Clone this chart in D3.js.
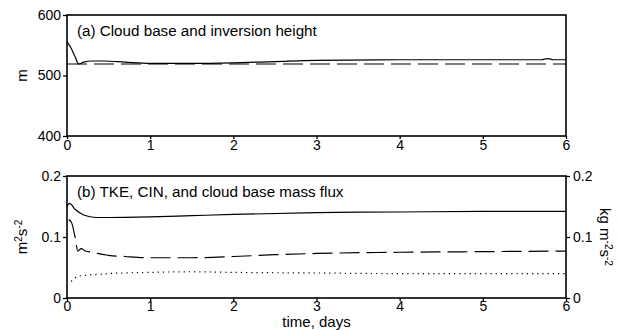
<!DOCTYPE html>
<html>
<head>
<meta charset="utf-8">
<script src="https://cdn.jsdelivr.net/npm/d3@7"></script>
<style>
  body { margin: 0; background: #fff; }
  svg { font-family: "Liberation Sans", Arial, Helvetica, sans-serif; }
  .tick text { font-size: 14px; fill: #000; }
  .frame { fill: none; stroke: #000; stroke-width: 1.6; }
  .lbl { font-size: 15px; fill: #000; }
  .title { font-size: 15.2px; fill: #000; }
</style>
</head>
<body>
<script>
// panel (a): cloud base (dashed) and inversion height (solid), metres
const timeA = [0, 0.05, 0.1, 0.14, 0.2, 0.3, 0.45, 0.7, 1, 1.5, 2, 2.5, 3, 4, 5, 5.7, 5.78, 5.85, 6];
const inversionHeight = [556, 545, 530, 519, 522, 524, 524, 522, 520, 520, 521, 523, 525, 526, 526, 526, 528, 526, 526];
const timeBase = [0, 6];
const cloudBase = [519, 519];

// panel (b): TKE (solid), CIN (dashed), cloud base mass flux (dotted)
const timeTke = [0, 0.03, 0.1, 0.2, 0.35, 0.5, 1, 1.5, 2, 3, 4, 5, 6];
const tke = [0.150, 0.155, 0.145, 0.136, 0.132, 0.132, 0.133, 0.135, 0.137, 0.140, 0.141, 0.142, 0.142];
const timeCin = [0.02, 0.05, 0.1, 0.13, 0.17, 0.22, 0.3, 0.5, 0.7, 1, 1.5, 2, 2.5, 3, 4, 5, 6];
const cin = [0.128, 0.125, 0.098, 0.077, 0.081, 0.077, 0.075, 0.070, 0.068, 0.066, 0.066, 0.068, 0.071, 0.073, 0.075, 0.076, 0.077];
const timeFlux = [0.05, 0.1, 0.15, 0.3, 0.5, 1, 1.5, 2, 3, 4, 5, 6];
const massFlux = [0.027, 0.033, 0.036, 0.038, 0.040, 0.042, 0.043, 0.042, 0.041, 0.040, 0.040, 0.040];

const xTicks = [0, 1, 2, 3, 4, 5, 6];
const yTicksA = [400, 500, 600];
const yTicksB = [0, 0.1, 0.2];

const W = 619, H = 330;
const left = 67, right = 566;
const panelA = { top: 15, bottom: 136 };
const panelB = { top: 176, bottom: 298 };

const svg = d3.select('body').append('svg')
    .attr('width', W)
    .attr('height', H);

const x = d3.scaleLinear().domain([0, 6]).range([left, right]);
const yA = d3.scaleLinear().domain([400, 600]).range([panelA.bottom, panelA.top]);
const yB = d3.scaleLinear().domain([0, 0.2]).range([panelB.bottom, panelB.top]);

const fmtB = d => d === 0 ? '0' : d3.format('.1f')(d);

function axisStyle(g) {
    g.select('.domain').remove();
    g.selectAll('.tick line').attr('stroke', '#000').attr('stroke-width', 1.3);
}

function drawLine(xs, ys, yScale, dash) {
    const pts = xs.map((t, i) => [t, ys[i]]);
    svg.append('path')
        .datum(pts)
        .attr('fill', 'none')
        .attr('stroke', '#000')
        .attr('stroke-width', 1.2)
        .attr('stroke-dasharray', dash)
        .attr('d', d3.line()
            .curve(d3.curveMonotoneX)
            .x(d => x(d[0]))
            .y(d => yScale(d[1])));
}

// ---- panel (a)
svg.append('g')
    .attr('transform', `translate(0,${panelA.bottom})`)
    .call(d3.axisBottom(x).tickValues(xTicks).tickSize(3).tickPadding(1).tickFormat(d3.format('d')))
    .call(axisStyle);
svg.append('g')
    .attr('transform', `translate(${left},0)`)
    .call(d3.axisLeft(yA).tickValues(yTicksA).tickSize(4).tickPadding(2))
    .call(axisStyle);

drawLine(timeBase, cloudBase, yA, '20,7');
drawLine(timeA, inversionHeight, yA, null);

svg.append('rect').attr('class', 'frame')
    .attr('x', left).attr('y', panelA.top)
    .attr('width', right - left).attr('height', panelA.bottom - panelA.top);

svg.append('text').attr('class', 'title')
    .attr('x', 77).attr('y', 36)
    .text('(a) Cloud base and inversion height');

svg.append('text').attr('class', 'lbl')
    .attr('transform', `translate(27,${yA(500)}) rotate(-90)`)
    .attr('text-anchor', 'middle')
    .text('m');

// ---- panel (b)
svg.append('g')
    .attr('transform', `translate(0,${panelB.bottom})`)
    .call(d3.axisBottom(x).tickValues(xTicks).tickSize(3).tickPadding(0).tickFormat(d3.format('d')))
    .call(axisStyle);
svg.append('g')
    .attr('transform', `translate(${left},0)`)
    .call(d3.axisLeft(yB).tickValues(yTicksB).tickSize(4).tickPadding(2).tickFormat(fmtB))
    .call(axisStyle);
svg.append('g')
    .attr('transform', `translate(${right},0)`)
    .call(d3.axisRight(yB).tickValues(yTicksB).tickSize(4).tickPadding(3).tickFormat(fmtB))
    .call(axisStyle);

drawLine(timeTke, tke, yB, null);
drawLine(timeCin, cin, yB, '20,7');
drawLine(timeFlux, massFlux, yB, '1.2,4');

svg.append('rect').attr('class', 'frame')
    .attr('x', left).attr('y', panelB.top)
    .attr('width', right - left).attr('height', panelB.bottom - panelB.top);

svg.append('text').attr('class', 'title')
    .attr('x', 77).attr('y', 197)
    .text('(b) TKE, CIN, and cloud base mass flux');

const leftLab = svg.append('text').attr('class', 'lbl')
    .attr('transform', `translate(27,${yB(0.1)}) rotate(-90)`)
    .attr('text-anchor', 'middle');
leftLab.append('tspan').text('m');
leftLab.append('tspan').attr('dy', -5).attr('font-size', 10).text('2');
leftLab.append('tspan').attr('dy', 5).text('s');
leftLab.append('tspan').attr('dy', -5).attr('font-size', 10).text('-2');

const rightLab = svg.append('text').attr('class', 'lbl')
    .attr('transform', `translate(600,${yB(0.1)}) rotate(90)`)
    .attr('text-anchor', 'middle');
rightLab.append('tspan').text('kg m');
rightLab.append('tspan').attr('dy', -5).attr('font-size', 10).text('-2');
rightLab.append('tspan').attr('dy', 5).text('s');
rightLab.append('tspan').attr('dy', -5).attr('font-size', 10).text('-2');

svg.append('text').attr('class', 'lbl')
    .attr('x', x(3)).attr('y', 327)
    .attr('text-anchor', 'middle')
    .text('time, days');
</script>
</body>
</html>
